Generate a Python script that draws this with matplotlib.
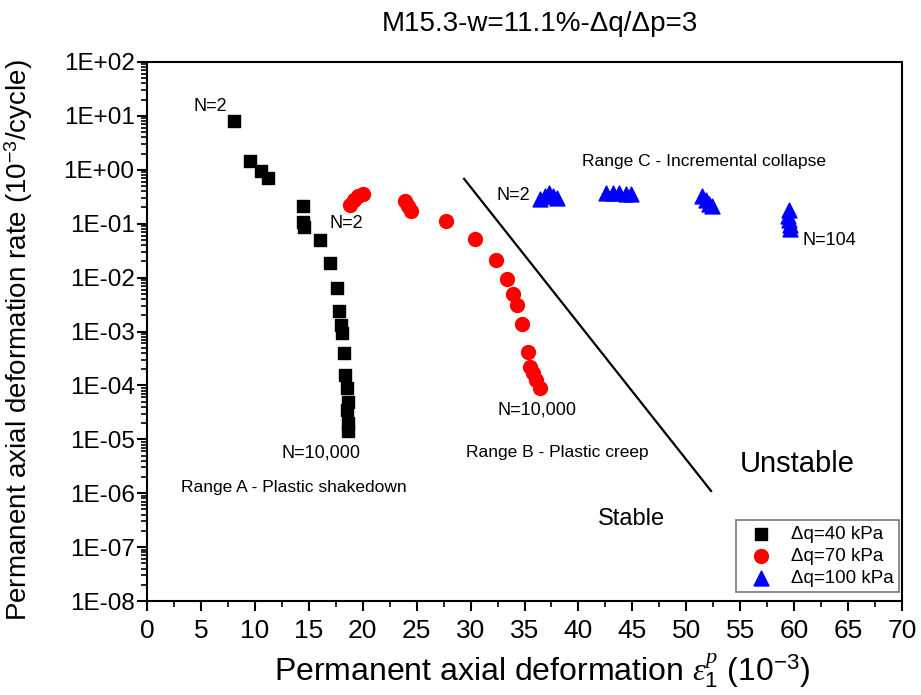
import numpy as np
import matplotlib
matplotlib.use("Agg")
import matplotlib.pyplot as plt
from matplotlib.ticker import FuncFormatter, LogLocator, MultipleLocator

plt.rcParams["font.family"] = ["Liberation Sans", "DejaVu Sans"]
plt.rcParams["mathtext.fontset"] = "custom"
plt.rcParams["mathtext.rm"] = "Liberation Sans"
plt.rcParams["mathtext.it"] = "Liberation Serif:italic"

# dq = 40 kPa
x40 = [8.06, 9.55, 10.6, 11.2, 14.5, 14.5, 14.6, 16.0, 17.0, 17.6, 17.8, 18.0,
       18.1, 18.3, 18.4, 18.5, 18.6, 18.5, 18.6, 18.6]
r40 = [8.0, 1.48, 0.95, 0.71, 0.21, 0.107, 0.087, 0.050, 0.0187, 0.0064, 0.0024,
       0.0013, 0.00094, 0.0004, 0.000155, 8.9e-5, 4.9e-5, 3.5e-5, 2.0e-5, 1.4e-5]
# dq = 70 kPa
x70 = [18.8, 19.2, 19.6, 20.0, 23.9, 24.2, 24.5, 27.7, 30.4, 32.4, 33.4, 33.9,
       34.3, 34.8, 35.3, 35.5, 35.8, 36.1, 36.4]
r70 = [0.22, 0.27, 0.32, 0.35, 0.26, 0.21, 0.17, 0.113, 0.052, 0.021, 0.0094,
       0.005, 0.0031, 0.0014, 0.00042, 0.00022, 0.00017, 0.000126, 8.9e-5]
# dq = 100 kPa
x100 = [36.4, 36.9, 37.3, 37.6, 38.0, 42.6, 43.2, 43.8, 44.4, 44.9,
        51.5, 51.8, 52.1, 52.4, 59.5, 59.4, 59.5, 59.6, 59.6]
r100 = [0.29, 0.32, 0.37, 0.32, 0.30, 0.37, 0.37, 0.37, 0.36, 0.35,
        0.33, 0.28, 0.23, 0.21, 0.18, 0.14, 0.118, 0.095, 0.08]

# stable / unstable boundary
bound_x = [29.4, 52.3]
bound_r = [0.68, 1.1e-6]

fig = plt.figure(figsize=(9.21, 6.95), dpi=100)
ax = fig.add_axes([147 / 921, 1 - 601 / 695, 755 / 921, 539 / 695])

ax.scatter(x40, r40, marker="s", s=85, color="black", label="Δq=40 kPa", zorder=3)
ax.scatter(x70, r70, marker="o", s=100, color="#ff0000", label="Δq=70 kPa", zorder=3)
ax.scatter(x100, r100, marker="^", s=115, color="#0000ff", label="Δq=100 kPa", zorder=3)
ax.plot(bound_x, bound_r, color="black", lw=1.6)

ax.set_yscale("log")
ax.set_xlim(0, 70)
ax.set_ylim(1e-8, 1e2)
ax.xaxis.set_major_locator(MultipleLocator(5))
ax.xaxis.set_minor_locator(MultipleLocator(2.5))
ax.yaxis.set_major_locator(LogLocator(base=10, numticks=20))
ax.yaxis.set_minor_locator(LogLocator(base=10, subs=np.arange(2, 10), numticks=20))
ax.yaxis.set_major_formatter(FuncFormatter(lambda v, p: f"1E{int(round(np.log10(v))):+03d}"))
ax.tick_params(axis="both", which="major", length=7, width=1.5)
ax.tick_params(axis="x", which="major", labelsize=19, pad=6)
ax.tick_params(axis="y", which="major", labelsize=17.5, pad=2)
ax.tick_params(axis="both", which="minor", length=4, width=1.2)
ax.tick_params(axis="y", which="minor", labelleft=False)
for s in ax.spines.values():
    s.set_linewidth(1.5)

ax.set_xlabel(r"Permanent axial deformation $\mathit{\varepsilon}_{1}^{p}$ (10$^{-3}$)", fontsize=23)
ax.set_ylabel(r"Permanent axial deformation rate (10$^{-3}$/cycle)", fontsize=20)
ax.xaxis.set_label_coords(0.523, -0.093)
ax.yaxis.set_label_coords(-0.148, 0.484)
fig.text(540 / 921, 1 - 24 / 695, "M15.3-w=11.1%-Δq/Δp=3", fontsize=20, ha="center", va="center")

kw = dict(fontsize=13, ha="center", va="center")
ax.text(5.9, 15, "N=2", **kw)
ax.text(18.5, 0.10, "N=2", **kw)
ax.text(16.1, 5.6e-6, "N=10,000", **kw)
ax.text(36.2, 3.5e-5, "N=10,000", **kw)
ax.text(34.0, 0.34, "N=2", **kw)
ax.text(63.3, 0.048, "N=104", **kw)
kw2 = dict(fontsize=12.5, ha="center", va="center")
ax.text(51.6, 1.45, "Range C - Incremental collapse", **kw2)
ax.text(38.0, 5.6e-6, "Range B - Plastic creep", **kw2)
ax.text(13.6, 1.26e-6, "Range A - Plastic shakedown", **kw2)
ax.text(60.3, 3.5e-6, "Unstable", fontsize=21, ha="center", va="center")
ax.text(44.9, 3.3e-7, "Stable", fontsize=17, ha="center", va="center")

leg = ax.legend(loc="lower right", bbox_to_anchor=(1.0, 6 / 539), fontsize=13.5,
                frameon=True, fancybox=False, edgecolor="#555555", borderpad=0.3,
                handletextpad=0.6, labelspacing=0.25, borderaxespad=0.15)
leg.get_frame().set_linewidth(1.2)

fig.savefig("out.png", dpi=100)
